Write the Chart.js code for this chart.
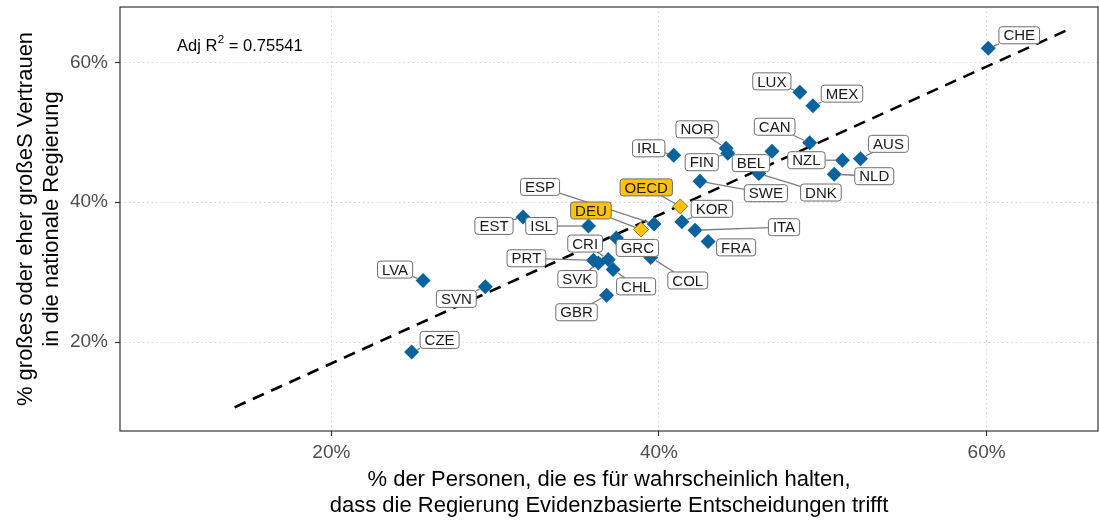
<!DOCTYPE html>
<html>
<head>
<meta charset="utf-8">
<script src="https://cdn.jsdelivr.net/npm/chart.js@4/dist/chart.umd.min.js"></script>
<style>
	html, body { margin: 0; padding: 0; background: #fff; }
</style>
</head>
<body>
<canvas id="trustChart" width="1099" height="525"></canvas>
<script>
// Daten: x = % Evidenzbasierte Entscheidungen, y = % Vertrauen in die Regierung
const countries = ['CHE', 'LUX', 'MEX', 'CAN', 'NOR', 'FIN', 'BEL', 'IRL', 'SWE', 'DNK', 'NZL', 'AUS', 'NLD', 'OECD', 'KOR', 'ITA', 'FRA', 'ESP', 'DEU', 'ISL', 'EST', 'GRC', 'CRI', 'SVK', 'PRT', 'CHL', 'COL', 'GBR', 'LVA', 'SVN', 'CZE']
const evidence = [60.1, 48.6, 49.4, 49.2, 44.1, 44.2, 46.9, 40.9, 42.5, 46.1, 51.2, 52.3, 50.7, 41.3, 41.4, 42.2, 43.0, 39.7, 38.9, 35.7, 31.7, 37.4, 36.9, 36.3, 36.0, 37.2, 39.5, 36.8, 25.6, 29.4, 24.9]
const trust = [62.0, 55.7, 53.8, 48.5, 47.7, 47.0, 47.3, 46.7, 43.0, 44.1, 46.0, 46.2, 44.0, 39.4, 37.2, 36.0, 34.4, 36.9, 36.1, 36.6, 37.9, 34.9, 31.8, 31.3, 31.7, 30.4, 32.1, 26.7, 28.8, 27.9, 18.6]
const highlighted = ['OECD', 'DEU']

// Regressionsgerade (Endpunkte)
const fitX = [14.1, 65.2]
const fitY = [10.7, 64.9]
const adjR2 = '0.75541'

const xTicks = [20, 40, 60]
const yTicks = [20, 40, 60]

// Label-Versatz in Pixel (wie ggrepel)
const labelOffsets = {
	CHE: [31, -13], LUX: [-28, -11], MEX: [29, -12], CAN: [-35, -16], NOR: [-29, -19],
	FIN: [-26, 9], BEL: [-21, 12], IRL: [-25, -7], SWE: [66, 12], DNK: [62, 19],
	NZL: [-36, 0], AUS: [28, -15], NLD: [40, 2], OECD: [-34, -19], KOR: [30, -13],
	ITA: [89, -3], FRA: [28, 6], ESP: [-114, -37], DEU: [-50, -19], ISL: [-47, 0],
	EST: [-29, 9], GRC: [21, 10], CRI: [-23, -16], SVK: [-21, 16], PRT: [-67, -2],
	CHL: [23, 17], COL: [37, 23], GBR: [-30, 17], LVA: [-28, -11], SVN: [-29, 12],
	CZE: [28, -12],
}

const family = '"Liberation Sans", Arial, sans-serif'
const blue = '#07639d'
const gold = '#ffc20e'

const points = countries.map((c, i) => ({ x: evidence[i], y: trust[i], name: c }))

// Rahmen, R²-Text und Länderlabels
const decorPlugin = {
	id: 'decor',
	afterDatasetsDraw(chart) {
		const { ctx, chartArea, scales } = chart
		const xs = scales.x
		const ys = scales.y

		ctx.save()
		ctx.font = '15px ' + family
		const boxes = points.map(p => {
			const px = xs.getPixelForValue(p.x)
			const py = ys.getPixelForValue(p.y)
			const off = labelOffsets[p.name]
			const w = ctx.measureText(p.name).width + 9
			return { p, px, py, cx: px + off[0], cy: py + off[1], w, h: 17 }
		})

		// Segmente
		ctx.strokeStyle = '#7f7f7f'
		ctx.lineWidth = 1.3
		boxes.forEach(b => {
			const dx = b.px - b.cx
			const dy = b.py - b.cy
			const len = Math.hypot(dx, dy)
			if (len === 0) return
			const tx = dx !== 0 ? (b.w / 2) / Math.abs(dx) : Infinity
			const ty = dy !== 0 ? (b.h / 2) / Math.abs(dy) : Infinity
			const t = Math.min(tx, ty)
			if (t >= 1) return
			const sx = b.cx + dx * t
			const sy = b.cy + dy * t
			const rest = len * (1 - t) - 6
			if (rest < 3) return
			ctx.beginPath()
			ctx.moveTo(sx, sy)
			ctx.lineTo(sx + (dx / len) * rest, sy + (dy / len) * rest)
			ctx.stroke()
		})

		// Boxen
		boxes.forEach(b => {
			ctx.beginPath()
			ctx.roundRect(b.cx - b.w / 2, b.cy - b.h / 2, b.w, b.h, 3)
			ctx.fillStyle = highlighted.includes(b.p.name) ? gold : '#ffffff'
			ctx.fill()
			ctx.strokeStyle = '#6e6e6e'
			ctx.lineWidth = 1
			ctx.stroke()
			ctx.fillStyle = '#1a1a1a'
			ctx.font = '15px ' + family
			ctx.textAlign = 'center'
			ctx.textBaseline = 'middle'
			ctx.fillText(b.p.name, b.cx, b.cy + 1)
		})

		// Adj R²
		const rx = xs.getPixelForValue(14.4)
		const ry = ys.getPixelForValue(62.6)
		ctx.fillStyle = '#000'
		ctx.textBaseline = 'alphabetic'
		ctx.textAlign = 'left'
		const a = 'Adj R'
		const c = ' = ' + adjR2
		ctx.font = '16.5px ' + family
		const wa = ctx.measureText(a).width
		const wc = ctx.measureText(c).width
		ctx.font = '11.5px ' + family
		const wb = ctx.measureText('2').width
		let x = rx - (wa + wb + wc) / 2
		ctx.font = '16.5px ' + family
		ctx.fillText(a, x, ry + 7)
		x += wa
		ctx.font = '11.5px ' + family
		ctx.fillText('2', x + 0.5, ry - 1)
		x += wb + 0.5
		ctx.font = '16.5px ' + family
		ctx.fillText(c, x, ry + 7)

		// Panel-Rahmen
		ctx.strokeStyle = '#333333'
		ctx.lineWidth = 1.2
		ctx.strokeRect(chartArea.left, chartArea.top, chartArea.right - chartArea.left, chartArea.bottom - chartArea.top)
		ctx.restore()
	},
}

const noPadding = s => {
	s.paddingTop = 0
	s.paddingBottom = 0
	s.paddingLeft = 0
	s.paddingRight = 0
}

const chart = new Chart(document.getElementById('trustChart').getContext('2d'), {
	type: 'scatter',
	data: {
		datasets: [
			{
				label: 'OECD / DEU',
				data: points.filter(p => highlighted.includes(p.name)),
				pointStyle: 'rectRot',
				pointRadius: 7.5,
				backgroundColor: gold,
				borderColor: '#7a6000',
				borderWidth: 0.8,
			},
			{
				label: 'Länder',
				data: points.filter(p => !highlighted.includes(p.name)),
				pointStyle: 'rectRot',
				pointRadius: 7.5,
				backgroundColor: blue,
				borderWidth: 0,
			},
			{
				type: 'line',
				label: 'Regression',
				data: fitX.map((v, i) => ({ x: v, y: fitY[i] })),
				borderColor: '#000',
				borderWidth: 2.6,
				borderDash: [12, 8],
				pointRadius: 0,
				fill: false,
			},
		],
	},
	options: {
		responsive: false,
		animation: false,
		layout: { autoPadding: false, padding: { top: 7, right: 1, left: 0, bottom: 0 } },
		plugins: {
			legend: { display: false },
			tooltip: { enabled: false },
		},
		scales: {
			x: {
				type: 'linear',
				min: 7.1,
				max: 66.8,
				afterFit: s => { s.height = 94; noPadding(s) },
				afterBuildTicks: s => { s.ticks = xTicks.map(v => ({ value: v })) },
				ticks: {
					callback: v => v + '%',
					color: '#4d4d4d',
					font: { family, size: 19 },
					padding: 5,
					maxRotation: 0,
				},
				grid: { color: '#d4d4d4', lineWidth: 1, tickLength: 5, tickColor: '#333', tickWidth: 1.2 },
				border: { display: false, dash: [1.5, 3] },
				title: {
					display: true,
					text: ['% der Personen, die es für wahrscheinlich halten,', 'dass die Regierung Evidenzbasierte Entscheidungen trifft'],
					color: '#000',
					font: { family, size: 22, lineHeight: 1.14 },
					padding: { top: 0, bottom: 7 },
				},
			},
			y: {
				type: 'linear',
				min: 7.3,
				max: 67.9,
				afterFit: s => { s.width = 120; noPadding(s) },
				afterBuildTicks: s => { s.ticks = yTicks.map(v => ({ value: v })) },
				ticks: {
					callback: v => v + '%',
					color: '#4d4d4d',
					font: { family, size: 19 },
					padding: 7,
				},
				grid: { color: '#d4d4d4', lineWidth: 1, tickLength: 5, tickColor: '#333', tickWidth: 1.2 },
				border: { display: false, dash: [1.5, 3] },
				title: {
					display: true,
					text: ['% großes oder eher großeS Vertrauen', 'in die nationale Regierung'],
					color: '#000',
					font: { family, size: 22, lineHeight: 1.18 },
					padding: { top: 13, bottom: 0 },
				},
			},
		},
	},
	plugins: [decorPlugin],
})
</script>
</body>
</html>
